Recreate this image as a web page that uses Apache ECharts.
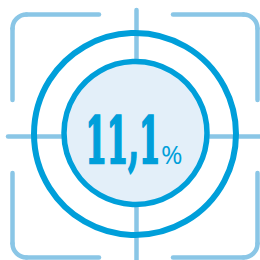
<!DOCTYPE html>
<html>
<head>
<meta charset="utf-8">
<script src="https://cdn.jsdelivr.net/npm/echarts@6/dist/echarts.min.js"></script>
<style>
  html, body { margin: 0; padding: 0; background: #fff; }
  #targetChart { width: 260px; height: 260px; }
</style>
</head>
<body>
<div id="targetChart"></div>
<script>
// share shown in the middle of the target
const shareValues = [11.1];
const shareUnits = ['%'];

const ringColor = '#009fda';
const lineColor = '#8ac6e6';
const fillColor = '#e3eff9';

var targetChart = echarts.init(document.getElementById('targetChart'), null, { renderer: 'svg' });

const lw = 4.5;
const cr = 14;
const L = 12.5, T = 14.5, R = 257.5, B = 257.5;
const lineStyle = { stroke: lineColor, lineWidth: lw, lineCap: 'round', fill: null };

let elements = [];
function seg(x1, y1, x2, y2) {
    elements.push({ type: 'line', shape: { x1: x1, y1: y1, x2: x2, y2: y2 }, style: lineStyle, z: 1 });
}
function corner(cx, cy, a0, a1) {
    elements.push({
        type: 'arc',
        shape: { cx: cx, cy: cy, r: cr, startAngle: a0 * Math.PI, endAngle: a1 * Math.PI, clockwise: true },
        style: lineStyle,
        z: 1
    });
}

// corner brackets
seg(L, 100, L, T + cr); corner(L + cr, T + cr, 1, 1.5); seg(L + cr, T, 99, T);
seg(173, T, R - cr, T); corner(R - cr, T + cr, 1.5, 2); seg(R, T + cr, R, 100);
seg(L, 173, L, B - cr); corner(L + cr, B - cr, 0.5, 1); seg(L + cr, B, 99, B);
seg(173, B, R - cr, B); corner(R - cr, B - cr, 0, 0.5); seg(R, B - cr, R, 173);

// crosshair
seg(136.5, 10, 136.5, 264);
seg(8, 136.5, 264, 136.5);

// rings
elements.push({
    type: 'circle',
    shape: { cx: 135, cy: 134, r: 101 },
    style: { fill: null, stroke: ringColor, lineWidth: 6 },
    z: 2
});
elements.push({
    type: 'circle',
    shape: { cx: 135.5, cy: 133, r: 71.5 },
    style: { fill: fillColor, stroke: ringColor, lineWidth: 5.5 },
    z: 3
});

// value
elements.push({
    type: 'text',
    x: 85.5,
    y: 140.5,
    scaleX: 0.48,
    style: {
        x: 0, y: 0,
        text: shareValues[0].toFixed(1).replace('.', ','),
        font: 'bold 64px "DejaVu Serif"',
        fill: ringColor,
        stroke: ringColor,
        lineWidth: 2.5,
        align: 'left',
        verticalAlign: 'middle',
        shadowColor: ringColor,
        shadowBlur: 0,
        shadowOffsetX: 3,
        shadowOffsetY: 0
    },
    z: 4
});
elements.push({
    type: 'text',
    x: 161,
    y: 154,
    style: {
        x: 0, y: 0,
        text: shareUnits[0],
        font: '26px "Open Sans"',
        fill: ringColor,
        align: 'left',
        verticalAlign: 'middle'
    },
    z: 4
});

option = {
    backgroundColor: '#ffffff',
    animation: false,
    graphic: { elements: elements }
};
targetChart.setOption(option);
</script>
</body>
</html>
